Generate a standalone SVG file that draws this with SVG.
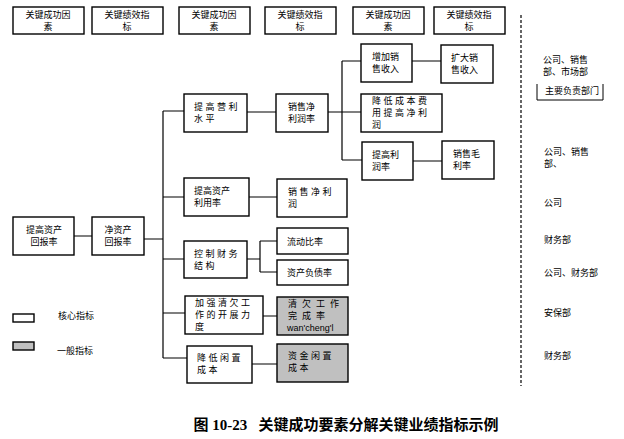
<svg xmlns="http://www.w3.org/2000/svg" width="624" height="439" viewBox="0 0 624 439">
<style>
.b{fill:#fff;stroke:#000;stroke-width:1.4}
.g{fill:#c0c0c0;stroke:#000;stroke-width:1.4}
.t{font-family:"Noto Sans CJK SC","Liberation Sans",sans-serif;font-size:9px;fill:#000}
.c{text-anchor:middle}
.s{letter-spacing:2.5px}
.l{fill:none;stroke:#000;stroke-width:1.2}
</style>
<rect width="624" height="439" fill="#fff"/>
<g id="header1"><rect class="b" x="13" y="7" width="71" height="27"/><text class="t c" x="48" y="18">关键成功因<tspan x="48" y="30">素</tspan></text></g>
<g id="header2"><rect class="b" x="92" y="7" width="71" height="27"/><text class="t c" x="127" y="18">关键绩效指<tspan x="127" y="30">标</tspan></text></g>
<g id="header3"><rect class="b" x="179" y="7" width="71" height="27"/><text class="t c" x="214" y="18">关键成功因<tspan x="214" y="30">素</tspan></text></g>
<g id="header4"><rect class="b" x="265" y="7" width="71" height="27"/><text class="t c" x="300" y="18">关键绩效指<tspan x="300" y="30">标</tspan></text></g>
<g id="header5"><rect class="b" x="353" y="7" width="71" height="27"/><text class="t c" x="388" y="18">关键成功因<tspan x="388" y="30">素</tspan></text></g>
<g id="header6"><rect class="b" x="434" y="7" width="71" height="27"/><text class="t c" x="469" y="18">关键绩效指<tspan x="469" y="30">标</tspan></text></g>

<g id="connectors">
<path class="l" d="M74 236H92M144 239H163M163 111V358M163 111H184M163 197H184M163 259H184M163 313H185M163 358H187"/>
<path class="l" d="M247 112H276M328 112H342M342 61V160M342 61H361M342 112H361M342 160H362M412 61H441M413 161H442"/>
<path class="l" d="M249 197H277M247 259H260M260 241V272M260 241H277M260 272H277M263 316H277M252 364H277"/>
<path d="M521 15V386" stroke="#000" stroke-width="1.2" stroke-dasharray="3,2" fill="none"/>
</g>

<g id="n_roa"><rect class="b" x="13" y="217" width="61" height="38"/><text class="t c" x="44" y="233">提高资产<tspan x="44" y="245">回报率</tspan></text></g>
<g id="n_roe"><rect class="b" x="92" y="217" width="52" height="38"/><text class="t c" x="118" y="233">净资产<tspan x="118" y="245">回报率</tspan></text></g>

<g id="n_profit"><rect class="b" x="184" y="94" width="63" height="38"/><text class="t s" x="194" y="110">提高营利<tspan x="194" y="122">水平</tspan></text></g>
<g id="n_npm"><rect class="b" x="276" y="94" width="52" height="38"/><text class="t" x="288" y="110">销售净<tspan x="288" y="122">利润率</tspan></text></g>
<g id="n_incsales"><rect class="b" x="361" y="44" width="51" height="38"/><text class="t" x="372" y="60">增加销<tspan x="372" y="72">售收入</tspan></text></g>
<g id="n_expsales"><rect class="b" x="441" y="45" width="52" height="38"/><text class="t" x="451" y="61">扩大销<tspan x="451" y="73">售收入</tspan></text></g>
<g id="n_cost"><rect class="b" x="361" y="94" width="81" height="38"/><text class="t s" x="372" y="104">降低成本费<tspan x="372" y="116">用提高净利</tspan><tspan x="372" y="128">润</tspan></text></g>
<g id="n_margin"><rect class="b" x="362" y="142" width="51" height="38"/><text class="t" x="372" y="158">提高利<tspan x="372" y="170">润率</tspan></text></g>
<g id="n_gross"><rect class="b" x="442" y="141" width="52" height="38"/><text class="t" x="453" y="157">销售毛<tspan x="453" y="169">利率</tspan></text></g>

<g id="n_assetuse"><rect class="b" x="184" y="178" width="65" height="38"/><text class="t" x="194" y="194">提高资产<tspan x="194" y="206">利用率</tspan></text></g>
<g id="n_netprofit"><rect class="b" x="277" y="179" width="70" height="38"/><text class="t s" x="288" y="195">销售净利<tspan x="288" y="207">润</tspan></text></g>

<g id="n_fin"><rect class="b" x="184" y="241" width="63" height="37"/><text class="t s" x="194" y="257">控制财务<tspan x="194" y="269">结构</tspan></text></g>
<g id="n_current"><rect class="b" x="277" y="228" width="71" height="26"/><text class="t" x="287" y="245">流动比率</text></g>
<g id="n_debt"><rect class="b" x="277" y="260" width="71" height="25"/><text class="t" x="287" y="276">资产负债率</text></g>

<g id="n_collect"><rect class="b" x="185" y="296" width="78" height="38"/><text class="t s" x="195" y="306">加强清欠工<tspan x="195" y="318">作的开展力</tspan><tspan x="195" y="330">度</tspan></text></g>
<g id="n_collectrate"><rect class="g" x="277" y="297" width="71" height="38"/><text class="t" x="288" y="307" letter-spacing="5">清欠工作<tspan x="288" y="319">完成率</tspan><tspan x="287" y="331" letter-spacing="0" font-family="Liberation Sans" font-size="9">wan'cheng'l</tspan></text></g>

<g id="n_idle"><rect class="b" x="187" y="346" width="65" height="37"/><text class="t s" x="197" y="361">降低闲置<tspan x="197" y="373">成本</tspan></text></g>
<g id="n_idlecost"><rect class="g" x="277" y="344" width="71" height="38"/><text class="t s" x="288" y="359">资金闲置<tspan x="288" y="371">成本</tspan></text></g>

<g id="legend">
<rect class="b" x="13" y="314" width="21" height="8" stroke-width="1"/>
<text class="t" x="58" y="319">核心指标</text>
<rect class="g" x="13" y="342" width="21" height="8" stroke-width="1"/>
<text class="t" x="57" y="354">一般指标</text>
</g>

<g id="depts">
<text class="t" x="543" y="63">公司、销售<tspan x="543" y="75">部、市场部</tspan></text>
<path d="M537 84V100H603V84" fill="none" stroke="#000" stroke-width="1"/>
<text class="t" x="545" y="94" font-size="6" fill="#555">主要负责部门</text>
<text class="t" x="544" y="155">公司、销售<tspan x="544" y="167">部、</tspan></text>
<text class="t" x="544" y="206">公司</text>
<text class="t" x="544" y="243">财务部</text>
<text class="t" x="544" y="276">公司、财务部</text>
<text class="t" x="544" y="316">安保部</text>
<text class="t" x="544" y="359">财务部</text>
</g>

<text x="346" y="430" text-anchor="middle" xml:space="preserve" font-family="Liberation Serif,'Noto Sans CJK SC',serif" font-size="15" font-weight="bold">图 10-23   关键成功要素分解关键业绩指标示例</text>
</svg>
